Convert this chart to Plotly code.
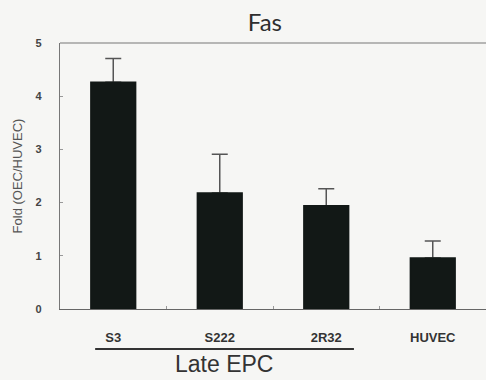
import plotly.graph_objects as go

categories = ["S3", "S222", "2R32", "HUVEC"]
fold_values = [4.26, 2.18, 1.94, 0.96]
fold_errors = [0.45, 0.73, 0.32, 0.32]
y_ticks = [0, 1, 2, 3, 4, 5]

BAR_COLOR = "#121816"
BAR_WIDTH = 0.42

fig = go.Figure()
# upper error whiskers (carried by a transparent bar so the filled bars cover the lower cap)
fig.add_trace(go.Bar(
    x=categories,
    y=fold_values,
    width=BAR_WIDTH,
    marker=dict(color="rgba(0,0,0,0)", line=dict(width=0)),
    error_y=dict(type="data", array=fold_errors, symmetric=False,
                 arrayminus=[0] * len(fold_errors),
                 color="#555555", thickness=1.5, width=8),
    hoverinfo="skip",
))
fig.add_trace(go.Bar(
    x=categories,
    y=fold_values,
    width=BAR_WIDTH,
    marker=dict(color=BAR_COLOR, line=dict(color=BAR_COLOR, width=1.5)),
))

fig.update_layout(
    width=486, height=380,
    barmode="overlay",
    margin=dict(l=60, r=0, t=43, b=71),
    paper_bgcolor="#f6f6f4",
    plot_bgcolor="#f6f6f4",
    showlegend=False,
    title=dict(text="Fas", x=0.545, xanchor="center", y=0.94, yanchor="middle",
               font=dict(family="Lato, Open Sans, sans-serif", size=24, color="#2e2e2e")),
    font=dict(family="Liberation Sans, Arial, sans-serif"),
)

fig.update_yaxes(
    range=[0, 5], tickvals=y_ticks,
    showgrid=False, zeroline=False,
    showline=True, linecolor="#777777", linewidth=1.2,
    ticks="inside", ticklen=3, tickcolor="#999999",
    ticklabelstandoff=15,
    tickfont=dict(size=11, color="#444444", family="Liberation Sans, Arial, sans-serif", weight="bold"),
    title=dict(text="Fold (OEC/HUVEC)", standoff=10,
               font=dict(size=13, color="#555555", family="Liberation Sans, Arial, sans-serif")),
)
fig.update_xaxes(
    range=[-0.5, 3.5],
    showgrid=False, zeroline=False,
    showline=True, linecolor="#666666", linewidth=1.2,
    ticks="inside", ticklen=3, tickcolor="#999999", tickson="boundaries",
    ticklabelstandoff=16,
    tickfont=dict(size=13, color="#333333", family="Liberation Sans, Arial, sans-serif", weight="bold"),
)

# top frame line
fig.add_shape(type="line", xref="paper", yref="paper", x0=0, x1=1, y0=1, y1=1,
              line=dict(color="#777777", width=1.2))

# grouping bracket under the Late EPC cell lines
fig.add_shape(type="line", xref="x", yref="paper", x0=-0.17, x1=2.26, y0=-0.150, y1=-0.150,
              line=dict(color="#333333", width=2))
fig.add_annotation(text="Late EPC", xref="x", yref="paper", x=1.04, y=-0.205,
                   showarrow=False, xanchor="center", yanchor="middle",
                   font=dict(family="Liberation Sans, Arial, sans-serif", size=23, color="#333333"))

fig.write_html("out.html")
